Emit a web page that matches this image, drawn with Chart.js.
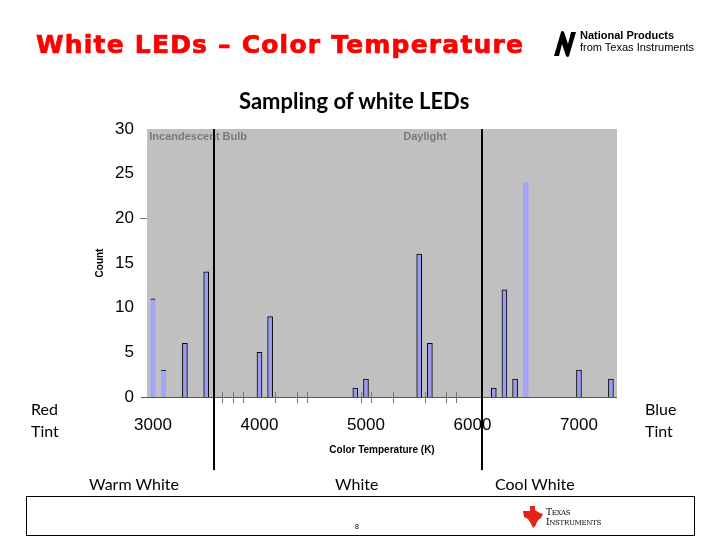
<!DOCTYPE html>
<html>
<head>
<meta charset="utf-8">
<script src="https://cdn.jsdelivr.net/npm/chart.js@4/dist/chart.umd.min.js"></script>
<style>
  body { margin: 0; background: #fff; }
  #page { position: relative; width: 720px; height: 540px; overflow: hidden; font-family: "Liberation Sans", Arial, sans-serif; }
  #chart { position: absolute; left: 0; top: 0; }
  .txt { position: absolute; white-space: nowrap; line-height: 1; }
  .cal { font-family: Lato, "Open Sans", sans-serif; color: #000; }
  #footer { position: absolute; left: 26px; top: 496px; width: 667px; height: 38px; border: 1px solid #000; }
</style>
</head>
<body>
<div id="page">
  <canvas id="chart" width="720" height="540"></canvas>

  <div class="txt" style="left:36px; top:32px; font-size:25px; font-weight:bold; color:#ff0000; font-family:'DejaVu Sans',sans-serif; letter-spacing:1.2px; -webkit-text-stroke:0.7px #ff0000;">White LEDs – Color Temperature</div>

  <!-- National logo -->
  <svg style="position:absolute; left:551px; top:29px;" width="28" height="30" viewBox="0 0 28 30">
    <path d="M3 27 L10 3 Q11 1 13 3 L17 15 L20 3 L25 3 L18 27 Q17 29 15 27 L11 15 L8 27 Z" fill="#000"/>
  </svg>
  <div class="txt" style="left:580px; top:30px; font-size:11px; font-weight:bold; font-family:'Liberation Sans Narrow','Liberation Sans',sans-serif;">National Products</div>
  <div class="txt" style="left:580px; top:42px; font-size:11px; font-family:'Liberation Sans Narrow','Liberation Sans',sans-serif;">from Texas Instruments</div>

  <div class="txt cal" style="left:239px; top:90px; font-size:22px; font-weight:bold;">Sampling of white LEDs</div>

  <div class="txt cal" style="left:31px; top:401px; font-size:16px;">Red</div>
  <div class="txt cal" style="left:31px; top:423px; font-size:16px;">Tint</div>
  <div class="txt cal" style="left:645px; top:401px; font-size:16px;">Blue</div>
  <div class="txt cal" style="left:645px; top:423px; font-size:16px;">Tint</div>

  <div class="txt cal" style="left:89px; top:476px; font-size:16px;">Warm White</div>
  <div class="txt cal" style="left:335px; top:476px; font-size:16px;">White</div>
  <div class="txt cal" style="left:495px; top:476px; font-size:16px;">Cool White</div>

  <div id="footer"></div>
  <div class="txt" style="left:355px; top:523px; font-size:7px;">8</div>
  <svg style="position:absolute; left:521px; top:505px;" width="24" height="24" viewBox="0 0 24 24">
    <path d="M2 6 L9 6 L9 1 L14 1 L14 5 Q18 8 22 9 L20 13 Q16 15 15 20 L12 23 Q10 18 7 14 L3 12 Z" fill="#e2231a"/>
  </svg>
  <div class="txt" style="left:546px; top:508px; font-size:9px; font-family:'DejaVu Serif',serif; letter-spacing:-0.3px;">T<span style="font-size:7px">EXAS</span></div>
  <div class="txt" style="left:546px; top:518px; font-size:9px; font-family:'DejaVu Serif',serif; letter-spacing:-0.3px;">I<span style="font-size:7px">NSTRUMENTS</span></div>
</div>

<script>
// histogram bins (K) and LED counts per bin
const binTemps = [3000, 3100, 3300, 3500, 4000, 4100, 4900, 5000, 5500, 5600, 6200, 6300, 6400, 6500, 7000, 7300]
const ledCounts = [11, 3, 6, 14, 5, 9, 1, 2, 16, 6, 1, 12, 2, 24, 3, 2]
// which bars carry the black outline
const barEdges = ["top", "top", "box", "box", "box", "box", "box", "box", "box", "box", "box", "box", "box", "none", "box", "box"]

const xTicks = [3000, 4000, 5000, 6000, 7000]
const yTicks = [0, 5, 10, 15, 20, 25, 30]
const minorTicks = [3650, 3750, 3850, 4150, 4350, 4450, 4950, 5050, 5250, 5550, 5750, 5850]

// region boundaries and labels
const dividers = [3575, 6085]
const regionLabels = ["Incandescent Bulb", "Daylight"]
const regionLabelTemps = [2965, 5350]

const overlay = {
  id: "overlay",
  beforeDraw(chart) {
    const { ctx, chartArea: a } = chart
    ctx.save()
    ctx.fillStyle = "#c0c0c0"
    ctx.fillRect(a.left, a.top, a.right - a.left, a.bottom - a.top)
    ctx.restore()
  },
  afterDraw(chart) {
    const { ctx, chartArea: a, scales } = chart
    const x = scales.x
    const y = scales.y
    ctx.save()

    // axis line
    ctx.strokeStyle = "#555"
    ctx.lineWidth = 1
    ctx.beginPath()
    ctx.moveTo(a.left - 6, Math.round(a.bottom) + 0.5)
    ctx.lineTo(a.right, Math.round(a.bottom) + 0.5)
    ctx.stroke()

    // stray tick marks
    ctx.strokeStyle = "#777"
    minorTicks.forEach((v) => {
      const px = Math.round(x.getPixelForValue(v)) + 0.5
      ctx.beginPath()
      ctx.moveTo(px, a.bottom - 5)
      ctx.lineTo(px, a.bottom + 6)
      ctx.stroke()
    })
    ctx.beginPath()
    ctx.moveTo(a.left - 7, Math.round(y.getPixelForValue(20)) + 0.5)
    ctx.lineTo(a.left, Math.round(y.getPixelForValue(20)) + 0.5)
    ctx.stroke()

    // region labels
    ctx.fillStyle = "#7a7a7a"
    ctx.font = "bold 11px 'Liberation Sans', sans-serif"
    ctx.textBaseline = "middle"
    regionLabels.forEach((t, i) => {
      ctx.fillText(t, x.getPixelForValue(regionLabelTemps[i]), a.top + 8)
    })

    // dividers
    ctx.strokeStyle = "#000"
    ctx.lineWidth = 2
    dividers.forEach((v) => {
      const px = Math.round(x.getPixelForValue(v))
      ctx.beginPath()
      ctx.moveTo(px, a.top)
      ctx.lineTo(px, 470)
      ctx.stroke()
    })
    ctx.restore()
  },
}

new Chart(document.getElementById("chart"), {
  type: "bar",
  data: {
    datasets: [
      {
        data: binTemps.map((t, i) => ({ x: t, y: ledCounts[i] })),
        backgroundColor: barEdges.map((e) => (e === "box" ? "#9c9cee" : "#a3a3fa")),
        borderColor: "#000",
        borderWidth: (c) => {
          const e = barEdges[c.dataIndex]
          if (e === "box") return 1
          if (e === "top") return { top: 1, left: 0, right: 0, bottom: 0 }
          return 0
        },
        borderSkipped: "start",
        barThickness: 5,
      },
    ],
  },
  options: {
    responsive: false,
    devicePixelRatio: 1,
    animation: false,
    layout: { padding: { top: 129, right: 103, left: 0, bottom: 0 } },
    plugins: { legend: { display: false }, tooltip: { enabled: false } },
    scales: {
      x: {
        type: "linear",
        offset: false,
        min: 2944,
        max: 7357,
        grid: { display: false, offset: false },
        border: { display: false },
        afterBuildTicks: (s) => {
          s.ticks = xTicks.map((v) => ({ value: v }))
        },
        afterFit: (s) => {
          s.height = 143
        },
        ticks: {
          padding: 10,
          color: "#000",
          font: { family: "'Liberation Sans', Arial, sans-serif", size: 17 },
          callback: (v) => String(v),
        },
        title: {
          display: true,
          text: "Color Temperature (K)",
          color: "#000",
          font: { family: "'Liberation Sans', Arial, sans-serif", size: 10, weight: "bold" },
          padding: { top: 0, bottom: 84 },
        },
      },
      y: {
        min: 0,
        max: 30,
        grid: { display: false },
        border: { display: false },
        afterBuildTicks: (s) => {
          s.ticks = yTicks.map((v) => ({ value: v }))
        },
        afterFit: (s) => {
          s.width = 147
        },
        ticks: {
          padding: 5,
          color: "#000",
          font: { family: "'Liberation Sans', Arial, sans-serif", size: 17 },
        },
        title: {
          display: true,
          text: "Count",
          color: "#000",
          font: { family: "'Liberation Sans', Arial, sans-serif", size: 10, weight: "bold" },
          padding: { top: 94, bottom: 0 },
        },
      },
    },
  },
  plugins: [overlay],
})
</script>
</body>
</html>
